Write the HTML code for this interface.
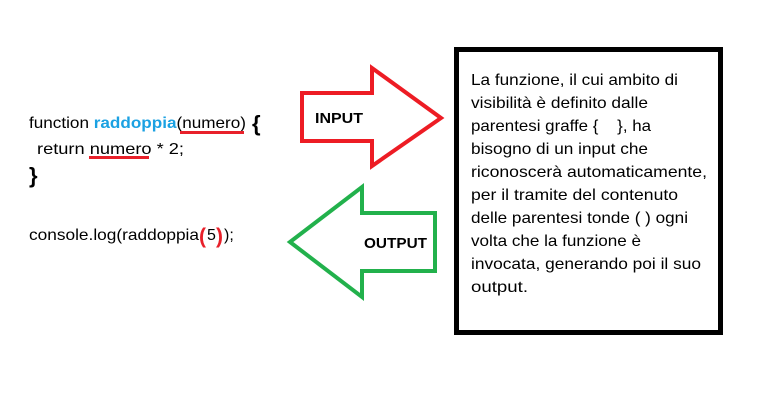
<!DOCTYPE html>
<html><head><meta charset="utf-8"><style>html,body{margin:0;padding:0;background:#fff;}svg{display:block}</style></head>
<body>
<svg width="774" height="411" xmlns="http://www.w3.org/2000/svg" font-family="Liberation Sans, sans-serif">
<rect width="774" height="411" fill="#fff"/>
<g font-size="16" fill="#000">
<text x="29" y="128" textLength="217" lengthAdjust="spacingAndGlyphs">function <tspan fill="#1ba1e2" font-weight="bold">raddoppia</tspan>(numero)</text>
<text x="252" y="131" font-size="22" font-weight="bold">{</text>
<text x="37" y="154" textLength="147" lengthAdjust="spacingAndGlyphs">return numero * 2;</text>
<text x="29" y="183" font-size="22" font-weight="bold">}</text>
<text x="29" y="240" textLength="170" lengthAdjust="spacingAndGlyphs">console.log(raddoppia</text>
<text x="199" y="243" font-size="21" font-weight="bold" fill="#e8202a">(</text>
<text x="207" y="240">5</text>
<text x="216" y="243" font-size="21" font-weight="bold" fill="#e8202a">)</text>
<text x="224" y="240">);</text>
</g>
<line x1="180" y1="132.5" x2="244" y2="132.5" stroke="#e8202a" stroke-width="3"/>
<line x1="89" y1="157.5" x2="149" y2="157.5" stroke="#e8202a" stroke-width="3"/>
<polygon points="302,93 372,93 372,68 441,118 372,166 372,141 302,141" fill="none" stroke="#ed1c24" stroke-width="4"/>
<text x="315" y="123" font-size="15" font-weight="bold" textLength="48" lengthAdjust="spacingAndGlyphs">INPUT</text>
<polygon points="435,213 362,213 362,187 290,242 362,297 362,271 435,271" fill="none" stroke="#22b14c" stroke-width="4"/>
<text x="364" y="248" font-size="15" font-weight="bold" textLength="63" lengthAdjust="spacingAndGlyphs">OUTPUT</text>
<rect x="456.5" y="49.5" width="264" height="283" fill="#fff" stroke="#000" stroke-width="5"/>
<g font-size="16" fill="#000">
<text x="471" y="85" textLength="207" lengthAdjust="spacingAndGlyphs">La funzione, il cui ambito di</text>
<text x="471" y="108" textLength="177" lengthAdjust="spacingAndGlyphs">visibilità è definito dalle</text>
<text x="471" y="131" textLength="180" lengthAdjust="spacingAndGlyphs">parentesi graffe {&#160;&#160;&#160;&#160;}, ha</text>
<text x="471" y="154" textLength="177" lengthAdjust="spacingAndGlyphs">bisogno di un input che</text>
<text x="471" y="177" textLength="236" lengthAdjust="spacingAndGlyphs">riconoscerà automaticamente,</text>
<text x="471" y="200" textLength="207" lengthAdjust="spacingAndGlyphs">per il tramite del contenuto</text>
<text x="471" y="223" textLength="217" lengthAdjust="spacingAndGlyphs">delle parentesi tonde ( ) ogni</text>
<text x="471" y="246" textLength="170" lengthAdjust="spacingAndGlyphs">volta che la funzione è</text>
<text x="471" y="269" textLength="230" lengthAdjust="spacingAndGlyphs">invocata, generando poi il suo</text>
<text x="471" y="292" textLength="57" lengthAdjust="spacingAndGlyphs">output.</text>
</g>
</svg>
</body></html>
